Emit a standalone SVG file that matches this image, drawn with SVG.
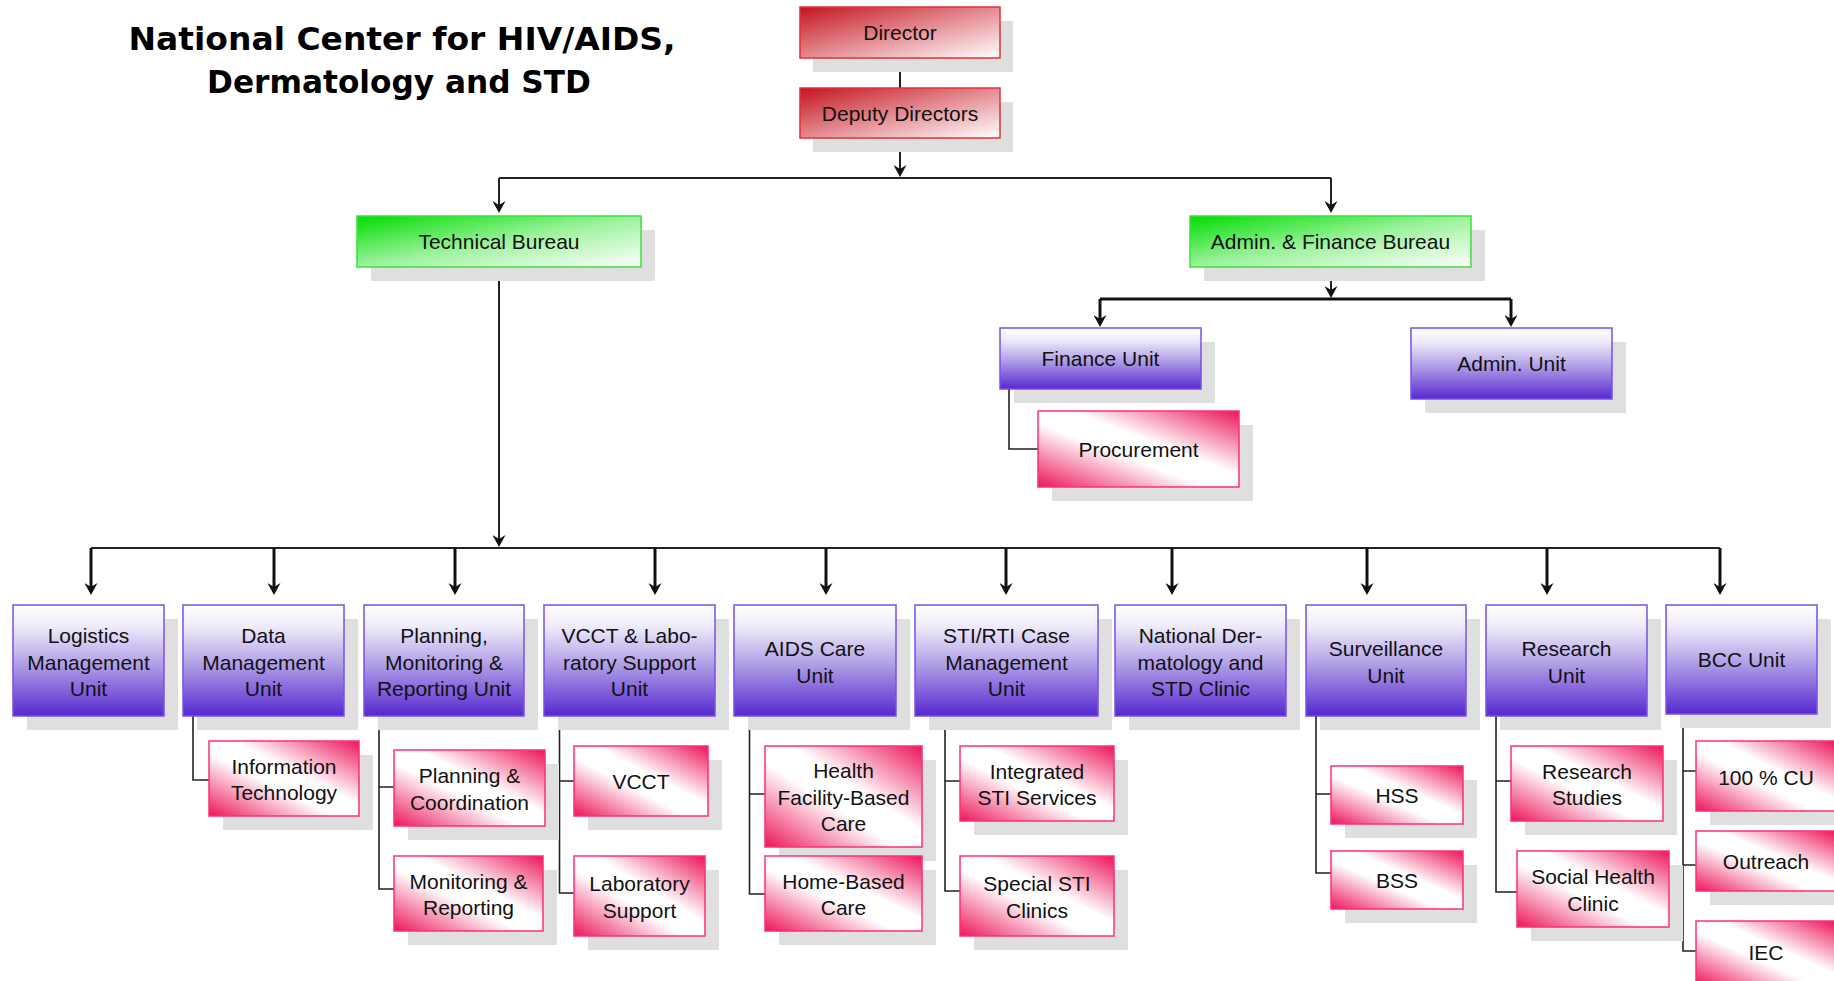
<svg xmlns="http://www.w3.org/2000/svg" width="1834" height="981" viewBox="0 0 1834 981">
<defs>
<style>
.sh{fill:#dfdfdf}
.red{fill:url(#gRed);stroke:#e0303a;stroke-width:1.5}
.grn{fill:url(#gGrn);stroke:#3be23b;stroke-width:1.5}
.pur{fill:url(#gPur);stroke:#7b4fe8;stroke-width:1.5}
.pnk{fill:url(#gPnk);stroke:#ff2e78;stroke-width:1.5}
.t{font-family:"Liberation Sans",Arial,sans-serif;font-size:21px;fill:#111;text-anchor:middle}
.title{font-family:"DejaVu Sans","Liberation Sans",sans-serif;font-weight:bold;font-size:32px;fill:#000;text-anchor:middle}
.ln{fill:none;stroke:#222;stroke-width:2}
.lb{fill:none;stroke:#111;stroke-width:3}
.ar{fill:none;stroke:#111;stroke-width:3;marker-end:url(#arr)}
.ar2{fill:none;stroke:#222;stroke-width:2;marker-end:url(#arr)}
.br{fill:none;stroke:#222;stroke-width:1.6}
</style>
<linearGradient id="gRed" x1="0" y1="0" x2="1" y2="1">
<stop offset="0" stop-color="#c4141f"/><stop offset="0.5" stop-color="#e48a90"/><stop offset="1" stop-color="#ffffff"/>
</linearGradient>
<linearGradient id="gGrn" x1="0" y1="0" x2="1" y2="1">
<stop offset="0" stop-color="#00dd00"/><stop offset="0.5" stop-color="#9cf29c"/><stop offset="1" stop-color="#ffffff"/>
</linearGradient>
<linearGradient id="gPur" x1="0" y1="0" x2="0" y2="1">
<stop offset="0" stop-color="#ffffff"/><stop offset="0.2" stop-color="#eeeaf9"/><stop offset="0.55" stop-color="#ad9be6"/><stop offset="1" stop-color="#5628cf"/>
</linearGradient>
<linearGradient id="gPnk" x1="0" y1="1" x2="1" y2="0">
<stop offset="0" stop-color="#ec1559"/><stop offset="0.42" stop-color="#ffffff"/><stop offset="0.58" stop-color="#ffffff"/><stop offset="1" stop-color="#ec1559"/>
</linearGradient>
<marker id="arr" markerUnits="userSpaceOnUse" viewBox="0 0 12 13" markerWidth="12" markerHeight="13" refX="9" refY="6.5" orient="auto">
<path d="M0,0 L12,6.5 L0,13 L4,6.5 z" fill="#111"/>
</marker>
</defs>
<rect width="1834" height="981" fill="#fff"/>

<g id="title">
<text class="title" x="402" y="50" textLength="547" lengthAdjust="spacingAndGlyphs">National Center for HIV/AIDS,</text>
<text class="title" x="399" y="93" textLength="384" lengthAdjust="spacingAndGlyphs">Dermatology and STD</text>
</g>

<g id="connectors">
<path class="ln" d="M900,58 V88"/>
<path class="ar2" d="M900,138 V174"/>
<path class="ln" d="M499,178 H1331"/>
<path class="ar2" d="M499,178 V210"/>
<path class="ar2" d="M1331,178 V210"/>
<path class="ar2" d="M1331,267 V295"/>
<path class="lb" d="M1100,299 H1511"/>
<path class="ar" d="M1100,299 V324"/>
<path class="ar" d="M1511,299 V324"/>
<path class="br" d="M1009,389 V449 H1038"/>
<path class="ar2" d="M499,267 V544"/>
<path class="ln" d="M91,548 H1720"/>
<path class="ar" d="M91,548 V592"/>
<path class="ar" d="M274,548 V592"/>
<path class="ar" d="M455,548 V592"/>
<path class="ar" d="M655,548 V592"/>
<path class="ar" d="M826,548 V592"/>
<path class="ar" d="M1006,548 V592"/>
<path class="ar" d="M1172,548 V592"/>
<path class="ar" d="M1367,548 V592"/>
<path class="ar" d="M1547,548 V592"/>
<path class="ar" d="M1720,548 V592"/>
<path class="br" d="M193,716 V780 H209"/>
<path class="br" d="M379,716 V889 H394 M379,787 H394"/>
<path class="br" d="M559.5,716 V893 H574 M559.5,781 H574"/>
<path class="br" d="M749.5,716 V894 H765 M749.5,794 H765"/>
<path class="br" d="M945,716 V891 H960 M945,781 H960"/>
<path class="br" d="M1316,716 V873 H1331 M1316,794 H1331"/>
<path class="br" d="M1496,716 V892 H1517 M1496,781 H1511"/>
<path class="br" d="M1683,714 V951 H1696 M1683,771 H1696 M1683,865 H1696"/>
</g>

<g id="director"><rect class="sh" x="813" y="21" width="200" height="51"/><rect class="red" x="800" y="7" width="200" height="51"/><text class="t" x="900" y="40">Director</text></g>
<g id="deputy"><rect class="sh" x="813" y="102" width="200" height="50"/><rect class="red" x="800" y="88" width="200" height="50"/><text class="t" x="900" y="120.5">Deputy Directors</text></g>
<g id="technical"><rect class="sh" x="371" y="230" width="284" height="51"/><rect class="grn" x="357" y="216" width="284" height="51"/><text class="t" x="499" y="249">Technical Bureau</text></g>
<g id="adminfinance"><rect class="sh" x="1204" y="230" width="281" height="51"/><rect class="grn" x="1190" y="216" width="281" height="51"/><text class="t" x="1330.5" y="249">Admin. &amp; Finance Bureau</text></g>
<g id="finance"><rect class="sh" x="1014" y="342" width="201" height="61"/><rect class="pur" x="1000" y="328" width="201" height="61"/><text class="t" x="1100.5" y="366">Finance Unit</text></g>
<g id="adminunit"><rect class="sh" x="1425" y="342" width="201" height="71"/><rect class="pur" x="1411" y="328" width="201" height="71"/><text class="t" x="1511.5" y="371">Admin. Unit</text></g>
<g id="procurement"><rect class="sh" x="1052" y="425" width="201" height="76"/><rect class="pnk" x="1038" y="411" width="201" height="76"/><text class="t" x="1138.5" y="456.5">Procurement</text></g>

<g id="logistics"><rect class="sh" x="27" y="619" width="151" height="111"/><rect class="pur" x="13" y="605" width="151" height="111"/><text class="t" x="88.5" y="643">Logistics</text><text class="t" x="88.5" y="669.5">Management</text><text class="t" x="88.5" y="696">Unit</text></g>
<g id="data"><rect class="sh" x="197" y="619" width="161" height="111"/><rect class="pur" x="183" y="605" width="161" height="111"/><text class="t" x="263.5" y="643">Data</text><text class="t" x="263.5" y="669.5">Management</text><text class="t" x="263.5" y="696">Unit</text></g>
<g id="planning"><rect class="sh" x="378" y="619" width="160" height="111"/><rect class="pur" x="364" y="605" width="160" height="111"/><text class="t" x="444" y="643">Planning,</text><text class="t" x="444" y="669.5">Monitoring &amp;</text><text class="t" x="444" y="696">Reporting Unit</text></g>
<g id="vcctlab"><rect class="sh" x="558" y="619" width="171" height="111"/><rect class="pur" x="544" y="605" width="171" height="111"/><text class="t" x="629.5" y="643">VCCT &amp; Labo-</text><text class="t" x="629.5" y="669.5">ratory Support</text><text class="t" x="629.5" y="696">Unit</text></g>
<g id="aidscare"><rect class="sh" x="748" y="619" width="162" height="111"/><rect class="pur" x="734" y="605" width="162" height="111"/><text class="t" x="815" y="656">AIDS Care</text><text class="t" x="815" y="682.5">Unit</text></g>
<g id="sticase"><rect class="sh" x="929" y="619" width="183" height="111"/><rect class="pur" x="915" y="605" width="183" height="111"/><text class="t" x="1006.5" y="643">STI/RTI Case</text><text class="t" x="1006.5" y="669.5">Management</text><text class="t" x="1006.5" y="696">Unit</text></g>
<g id="natder"><rect class="sh" x="1129" y="619" width="171" height="111"/><rect class="pur" x="1115" y="605" width="171" height="111"/><text class="t" x="1200.5" y="643">National Der-</text><text class="t" x="1200.5" y="669.5">matology and</text><text class="t" x="1200.5" y="696">STD Clinic</text></g>
<g id="surveillance"><rect class="sh" x="1320" y="619" width="160" height="111"/><rect class="pur" x="1306" y="605" width="160" height="111"/><text class="t" x="1386" y="656">Surveillance</text><text class="t" x="1386" y="682.5">Unit</text></g>
<g id="research"><rect class="sh" x="1500" y="619" width="161" height="111"/><rect class="pur" x="1486" y="605" width="161" height="111"/><text class="t" x="1566.5" y="656">Research</text><text class="t" x="1566.5" y="682.5">Unit</text></g>
<g id="bcc"><rect class="sh" x="1680" y="619" width="151" height="109"/><rect class="pur" x="1666" y="605" width="151" height="109"/><text class="t" x="1741.5" y="667">BCC Unit</text></g>

<g id="infotech"><rect class="sh" x="223" y="755" width="150" height="75"/><rect class="pnk" x="209" y="741" width="150" height="75"/><text class="t" x="284" y="774">Information</text><text class="t" x="284" y="800">Technology</text></g>
<g id="plancoord"><rect class="sh" x="408" y="764" width="151" height="76"/><rect class="pnk" x="394" y="750" width="151" height="76"/><text class="t" x="469.5" y="783">Planning &amp;</text><text class="t" x="469.5" y="809.5">Coordination</text></g>
<g id="monrep"><rect class="sh" x="408" y="870" width="149" height="75"/><rect class="pnk" x="394" y="856" width="149" height="75"/><text class="t" x="468.5" y="888.5">Monitoring &amp;</text><text class="t" x="468.5" y="915">Reporting</text></g>
<g id="vcct"><rect class="sh" x="588" y="760" width="134" height="70"/><rect class="pnk" x="574" y="746" width="134" height="70"/><text class="t" x="641" y="789">VCCT</text></g>
<g id="labsupport"><rect class="sh" x="588" y="870" width="131" height="80"/><rect class="pnk" x="574" y="856" width="131" height="80"/><text class="t" x="639.5" y="891">Laboratory</text><text class="t" x="639.5" y="917.5">Support</text></g>
<g id="hfbc"><rect class="sh" x="779" y="760" width="157" height="101"/><rect class="pnk" x="765" y="746" width="157" height="101"/><text class="t" x="843.5" y="778">Health</text><text class="t" x="843.5" y="804.5">Facility-Based</text><text class="t" x="843.5" y="831">Care</text></g>
<g id="hbc"><rect class="sh" x="779" y="870" width="157" height="75"/><rect class="pnk" x="765" y="856" width="157" height="75"/><text class="t" x="843.5" y="888.5">Home-Based</text><text class="t" x="843.5" y="915">Care</text></g>
<g id="isti"><rect class="sh" x="974" y="760" width="154" height="75"/><rect class="pnk" x="960" y="746" width="154" height="75"/><text class="t" x="1037" y="778.5">Integrated</text><text class="t" x="1037" y="805">STI Services</text></g>
<g id="ssti"><rect class="sh" x="974" y="870" width="154" height="80"/><rect class="pnk" x="960" y="856" width="154" height="80"/><text class="t" x="1037" y="891">Special STI</text><text class="t" x="1037" y="917.5">Clinics</text></g>
<g id="hss"><rect class="sh" x="1345" y="780" width="132" height="58"/><rect class="pnk" x="1331" y="766" width="132" height="58"/><text class="t" x="1397" y="803">HSS</text></g>
<g id="bss"><rect class="sh" x="1345" y="865" width="132" height="58"/><rect class="pnk" x="1331" y="851" width="132" height="58"/><text class="t" x="1397" y="888">BSS</text></g>
<g id="rstudies"><rect class="sh" x="1525" y="760" width="152" height="75"/><rect class="pnk" x="1511" y="746" width="152" height="75"/><text class="t" x="1587" y="778.5">Research</text><text class="t" x="1587" y="805">Studies</text></g>
<g id="shc"><rect class="sh" x="1531" y="865" width="152" height="76"/><rect class="pnk" x="1517" y="851" width="152" height="76"/><text class="t" x="1593" y="884">Social Health</text><text class="t" x="1593" y="910.5">Clinic</text></g>
<g id="cu"><rect class="sh" x="1710" y="755" width="140" height="70"/><rect class="pnk" x="1696" y="741" width="140" height="70"/><text class="t" x="1766" y="785">100 % CU</text></g>
<g id="outreach"><rect class="sh" x="1710" y="845" width="140" height="60"/><rect class="pnk" x="1696" y="831" width="140" height="60"/><text class="t" x="1766" y="869">Outreach</text></g>
<g id="iec"><rect class="sh" x="1710" y="935" width="140" height="64"/><rect class="pnk" x="1696" y="921" width="140" height="64"/><text class="t" x="1766" y="960">IEC</text></g>
</svg>
